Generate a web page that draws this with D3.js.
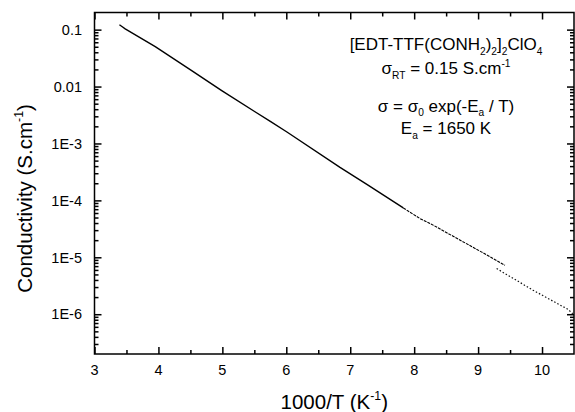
<!DOCTYPE html>
<html>
<head>
<meta charset="utf-8">
<script src="https://cdn.jsdelivr.net/npm/d3@7"></script>
<style>
  html, body { margin: 0; padding: 0; background: #fff; }
  svg { display: block; }
  text { font-family: "Liberation Sans", Arial, sans-serif; fill: #000; }
</style>
</head>
<body>
<svg id="chart" width="575" height="412"></svg>
<script>
// ---- Data ----
// main (continuous) run, 1000/T in K^-1, conductivity in S/cm
const invT_main = [3.39, 3.44, 3.48, 3.95, 4.52, 4.99, 5.51, 5.75, 6.01, 6.84, 7.26, 7.83];
const sigma_main = [0.122, 0.111, 0.103, 0.0502, 0.0191, 0.0085, 0.00361, 0.00244, 0.00159, 3.80e-4, 1.91e-4, 7.36e-5];
// sparser tail of the same run
const invT_tail = [7.83, 8.09, 8.25, 8.61, 9.05, 9.42];
const sigma_tail = [7.36e-5, 4.80e-5, 3.93e-5, 2.34e-5, 1.245e-5, 7.24e-6];
// second low-temperature run
const invT_low = [9.29, 9.86, 10.41, 10.48];
const sigma_low = [6.34e-6, 2.64e-6, 1.21e-6, 1.02e-6];

const xTicks = [3, 4, 5, 6, 7, 8, 9, 10];
const xTickLabels = ["3", "4", "5", "6", "7", "8", "9", "10"];
const yTicks = [1e-6, 1e-5, 1e-4, 1e-3, 0.01, 0.1];
const yTickLabels = ["1E-6", "1E-5", "1E-4", "1E-3", "0.01", "0.1"];

// ---- Layout ----
const svg = d3.select("#chart");
const L = 94.5, R = 574, T = 12.5, B = 354;
const x = d3.scaleLinear().domain([3, 10.5]).range([L, R]);
const y = d3.scaleLog().domain([2e-7, 0.2]).range([B, T]);

const majorLen = 7, minorLen = 4;
const axisW = 1.5;

// minor tick values
const xMinor = d3.range(3.5, 10.5, 1);
const yMinor = [];
for (let e = -7; e <= -1; e++) {
  for (let m = 2; m <= 9; m++) {
    const v = m * Math.pow(10, e);
    if (v > 2e-7 && v < 0.2) yMinor.push(v);
  }
}

const xAxisB = d3.axisBottom(x).tickValues(xTicks).tickFormat("").tickSizeInner(-majorLen).tickSizeOuter(0);
const xAxisBm = d3.axisBottom(x).tickValues(xMinor).tickFormat("").tickSizeInner(-minorLen).tickSizeOuter(0);
const xAxisT = d3.axisTop(x).tickValues(xTicks).tickFormat("").tickSizeInner(-majorLen).tickSizeOuter(0);
const xAxisTm = d3.axisTop(x).tickValues(xMinor).tickFormat("").tickSizeInner(-minorLen).tickSizeOuter(0);
const yAxisL = d3.axisLeft(y).tickValues(yTicks).tickFormat("").tickSizeInner(-majorLen).tickSizeOuter(0);
const yAxisLm = d3.axisLeft(y).tickValues(yMinor).tickFormat("").tickSizeInner(-minorLen).tickSizeOuter(0);
const yAxisR = d3.axisRight(y).tickValues(yTicks).tickFormat("").tickSizeInner(-majorLen).tickSizeOuter(0);
const yAxisRm = d3.axisRight(y).tickValues(yMinor).tickFormat("").tickSizeInner(-minorLen).tickSizeOuter(0);

function drawAxis(axis, tx, ty) {
  const g = svg.append("g").attr("transform", `translate(${tx},${ty})`).call(axis);
  g.select(".domain").remove();
  g.selectAll(".tick line").attr("stroke", "#000").attr("stroke-width", axisW);
  g.selectAll(".tick text").remove();
  return g;
}
drawAxis(xAxisB, 0, B); drawAxis(xAxisBm, 0, B);
drawAxis(xAxisT, 0, T); drawAxis(xAxisTm, 0, T);
drawAxis(yAxisL, L, 0); drawAxis(yAxisLm, L, 0);
drawAxis(yAxisR, R, 0); drawAxis(yAxisRm, R, 0);

// frame
svg.append("rect")
  .attr("x", L).attr("y", T).attr("width", R - L).attr("height", B - T)
  .attr("fill", "none").attr("stroke", "#000").attr("stroke-width", axisW);

// tick labels
svg.append("g").selectAll("text").data(xTicks).join("text")
  .attr("x", d => x(d)).attr("y", B + 21)
  .attr("text-anchor", "middle").attr("font-size", 14.5)
  .text((d, i) => xTickLabels[i]);
svg.append("g").selectAll("text").data(yTicks).join("text")
  .attr("x", 82).attr("y", d => y(d)).attr("dy", "0.36em")
  .attr("text-anchor", "end").attr("font-size", 14.5)
  .text((d, i) => yTickLabels[i]);

// rich text helper: parts = [[text, "n"|"sub"|"sup"], ...]
function rich(sel, parts, size, subShift) {
  const sub = subShift == null ? 0.3 : subShift;
  let cur = 0;
  parts.forEach(([t, mode]) => {
    const target = mode === "sub" ? size * sub : mode === "sup" ? -size * 0.42 : 0;
    sel.append("tspan")
      .attr("dy", target - cur)
      .attr("font-size", mode === "n" ? size : size * 0.6)
      .text(t);
    cur = target;
  });
}

// axis titles
const xt = svg.append("text").attr("x", (L + R) / 2).attr("y", 409)
  .attr("text-anchor", "middle").attr("font-size", 20.5);
rich(xt, [["1000/T (K", "n"], ["-1", "sup"], [")", "n"]], 20.5);

const yt = svg.append("text").attr("transform", "translate(32,198.5) rotate(-90)")
  .attr("text-anchor", "middle").attr("font-size", 20.5);
rich(yt, [["Conductivity (S.cm", "n"], ["-1", "sup"], [")", "n"]], 20.5);

// annotation
const ax = 446;
const a1 = svg.append("text").attr("x", ax).attr("y", 50).attr("text-anchor", "middle").attr("font-size", 17);
rich(a1, [["[EDT-TTF(CONH", "n"], ["2", "sub"], [")", "n"], ["2", "sub"], ["]", "n"], ["2", "sub"], ["ClO", "n"], ["4", "sub"]], 17);
const a2 = svg.append("text").attr("x", ax).attr("y", 74).attr("text-anchor", "middle").attr("font-size", 17);
rich(a2, [["σ", "n"], ["RT", "sub"], [" = 0.15 S.cm", "n"], ["-1", "sup"]], 17);
const a3 = svg.append("text").attr("x", ax).attr("y", 112).attr("text-anchor", "middle").attr("font-size", 17);
rich(a3, [["σ = σ", "n"], ["0", "sub"], [" exp(-E", "n"], ["a", "sub"], [" / T)", "n"]], 17, 0.24);
const a4 = svg.append("text").attr("x", ax).attr("y", 134).attr("text-anchor", "middle").attr("font-size", 17);
rich(a4, [["E", "n"], ["a", "sub"], [" = 1650 K", "n"]], 17);

// data lines
const line = d3.line().x(d => x(d[0])).y(d => y(d[1]));
const zip = (a, b) => a.map((v, i) => [v, b[i]]);

svg.append("path").datum(zip(invT_main, sigma_main))
  .attr("d", line).attr("fill", "none").attr("stroke", "#000").attr("stroke-width", 1.4)
  .attr("stroke-linejoin", "round");
svg.append("path").datum(zip(invT_tail, sigma_tail))
  .attr("d", line).attr("fill", "none").attr("stroke", "#000").attr("stroke-width", 1.1)
  .attr("stroke-dasharray", "3,1");
svg.append("path").datum(zip(invT_low, sigma_low))
  .attr("d", line).attr("fill", "none").attr("stroke", "#111").attr("stroke-width", 1.2)
  .attr("stroke-dasharray", "1.5,2");
</script>
</body>
</html>
